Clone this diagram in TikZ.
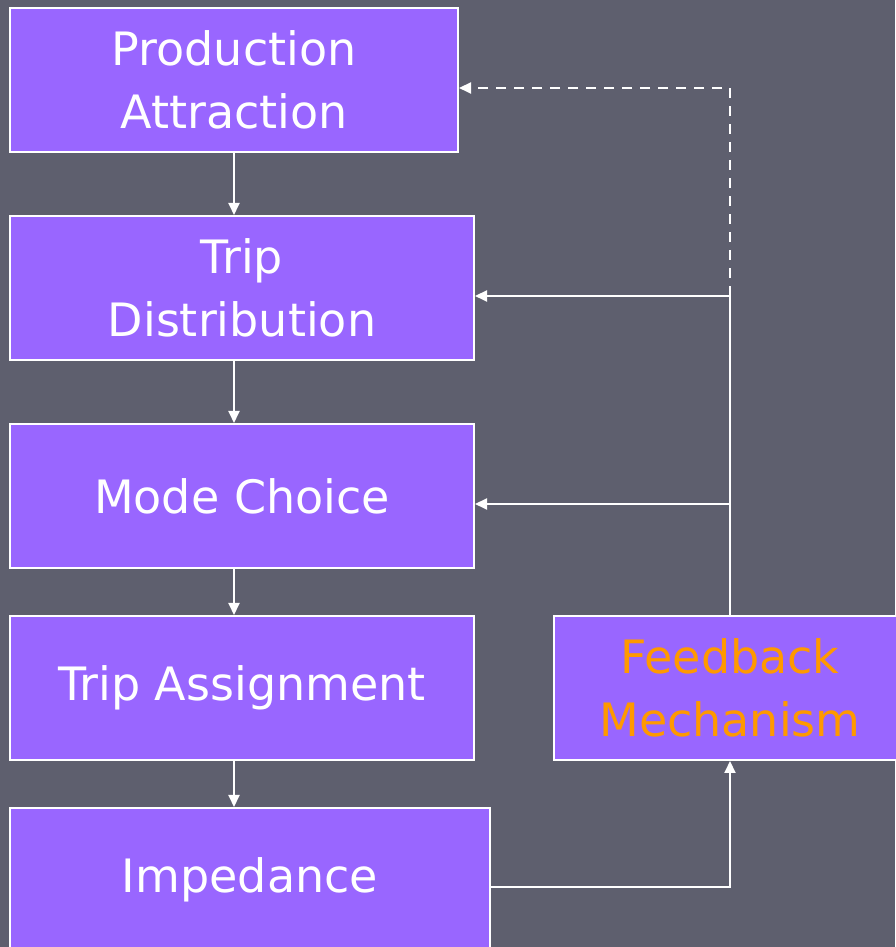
\documentclass[tikz,border=0pt]{standalone}
\usepackage{fontspec}
\setmainfont{DejaVu Sans}
\usetikzlibrary{calc,arrows.meta}

\definecolor{slate}{RGB}{94,95,110}
\definecolor{boxpurple}{RGB}{153,102,255}
\definecolor{fborange}{RGB}{255,153,0}

\tikzset{
    box/.style = {draw=white, line width=2pt, fill=boxpurple, text=white,
                  align=center, minimum height=144pt, inner sep=0pt,
                  font=\fontsize{46}{63}\selectfont},
    link/.style = {white, line width=2pt},
    tip/.style = {-{Triangle[length=12pt,width=11pt]}},
}

\begin{document}
\begin{tikzpicture}[x=1pt,y=1pt]

    \useasboundingbox[fill=slate] (0,0) rectangle (895,947);

    % the model steps
    \node[box, minimum width=448pt] (prod) at (234,867) {Production\\Attraction};
    \node[box, minimum width=464pt] (dist) at (242,659) {Trip\\Distribution};
    \node[box, minimum width=464pt] (mode) at (242,451) {Mode Choice};
    \node[box, minimum width=464pt] (assign) at (242,259) {Trip Assignment};
    \node[box, minimum width=480pt] (imp) at (250,67) {Impedance};

    \node[box, minimum width=352pt, text=fborange] (fb) at (730,259) {Feedback\\Mechanism};

    \coordinate (j1) at (730,651);
    \coordinate (j2) at (730,443);
    \coordinate (j3) at (730,60);
    \coordinate (fbtop) at (730,859);

    % down the chain
    \draw[link,tip] (prod.south) -- (prod.south |- dist.north);
    \draw[link,tip] (dist.south -| prod.south) -- (prod.south |- mode.north);
    \draw[link,tip] (mode.south -| prod.south) -- (prod.south |- assign.north);
    \draw[link,tip] (assign.south -| prod.south) -- (prod.south |- imp.north);

    % feedback loop
    \draw[link,tip] (j3 -| imp.east) -- (j3) -- (fb.south);
    \draw[link] (fb.north) -- (j1);
    \draw[link,tip] (j1) -- (j1 -| dist.east);
    \draw[link,tip] (j2) -- (j2 -| mode.east);
    \draw[link,dash pattern=on 10pt off 8pt,tip] (j1) -- (fbtop) -- (fbtop -| prod.east);

\end{tikzpicture}
\end{document}
